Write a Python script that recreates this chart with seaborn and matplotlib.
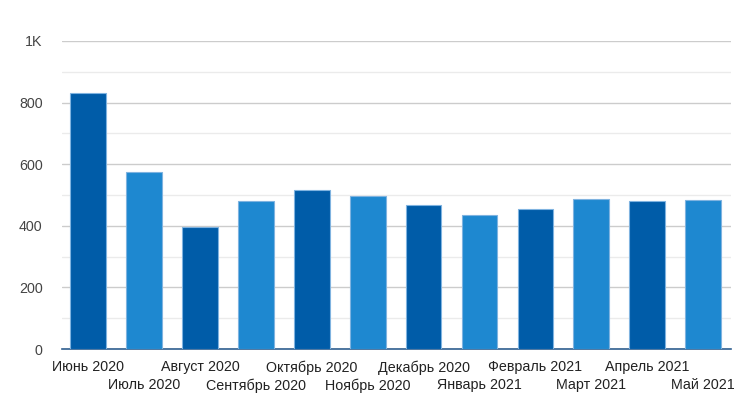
import matplotlib
matplotlib.use('Agg')
import matplotlib.pyplot as plt
import seaborn as sns
import pandas as pd
from matplotlib.ticker import MultipleLocator, FixedLocator, FixedFormatter

# Данные
months = ['Июнь 2020', 'Июль 2020', 'Август 2020', 'Сентябрь 2020', 'Октябрь 2020',
          'Ноябрь 2020', 'Декабрь 2020', 'Январь 2021', 'Февраль 2021', 'Март 2021',
          'Апрель 2021', 'Май 2021']
values = [832, 574, 397, 480, 516, 497, 466, 434, 456, 488, 482, 485]
y_ticks = [0, 200, 400, 600, 800, 1000]
y_tick_labels = ['0', '200', '400', '600', '800', '1K']

dark = '#005ca8'
light = '#1e88d0'
colors = [dark if i % 2 == 0 else light for i in range(len(months))]

df = pd.DataFrame({'month': months, 'value': values})

sns.set_style('white')
plt.rcParams['font.family'] = ['Liberation Sans', 'DejaVu Sans']

fig = plt.figure(figsize=(7.55, 4.19), dpi=100)
ax = fig.add_axes([62 / 755, 1 - 349 / 419, (731 - 62) / 755, (349 - 41) / 419])

sns.barplot(data=df, x='month', y='value', hue='month', palette=colors,
            legend=False, width=0.64, ax=ax, saturation=1,
            edgecolor='#7fb3e0', linewidth=0.8, zorder=3)

ax.set_ylim(0, 1000)
ax.set_xlim(-0.47, len(months) - 0.5)
ax.set_yticks(y_ticks)
ax.set_yticklabels(y_tick_labels)
ax.yaxis.set_minor_locator(MultipleLocator(100))
ax.grid(axis='y', which='major', color='#cccccc', linewidth=1, zorder=0)
ax.grid(axis='y', which='minor', color='#ebebeb', linewidth=1, zorder=0)
ax.set_axisbelow(True)

# подписи в два ряда: чётные — основные тики, нечётные — второстепенные
even = list(range(0, len(months), 2))
odd = list(range(1, len(months), 2))
ax.xaxis.set_major_locator(FixedLocator(even))
ax.xaxis.set_major_formatter(FixedFormatter([months[i] for i in even]))
ax.xaxis.set_minor_locator(FixedLocator(odd))
ax.xaxis.set_minor_formatter(FixedFormatter([months[i] for i in odd]))
ax.tick_params(axis='x', which='major', length=0, pad=8, labelsize=10.3, labelcolor='#222222')
ax.tick_params(axis='x', which='minor', length=0, pad=21, labelsize=10.3, labelcolor='#222222')
ax.tick_params(axis='y', which='both', length=0, pad=14, labelsize=10.3, labelcolor='#444444')

for s in ['top', 'right', 'left']:
    ax.spines[s].set_visible(False)
ax.spines['bottom'].set_color('#2f5f90')
ax.spines['bottom'].set_linewidth(1.2)

ax.set_xlabel('')
ax.set_ylabel('')

fig.savefig('out.png', dpi=100)
